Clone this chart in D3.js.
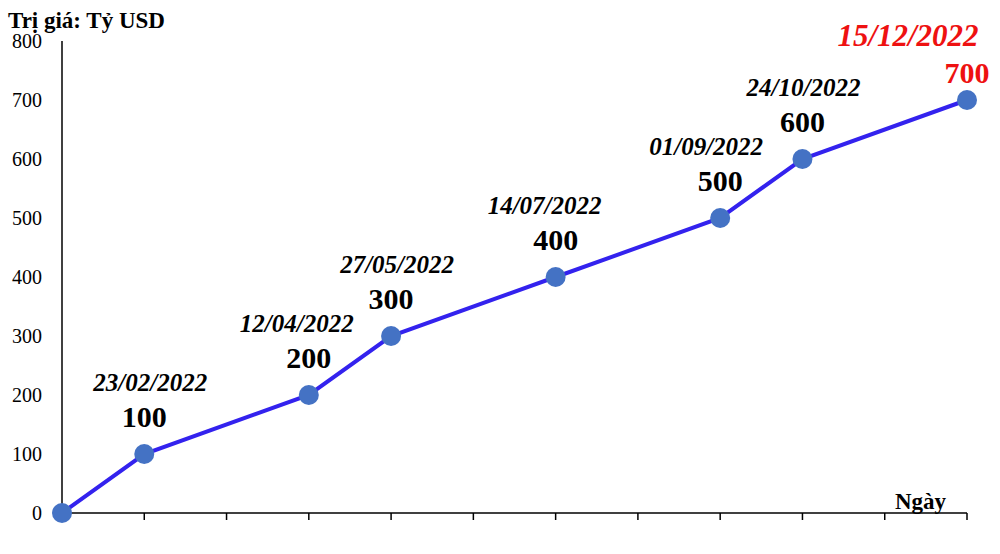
<!DOCTYPE html>
<html>
<head>
<meta charset="utf-8">
<script src="https://cdn.jsdelivr.net/npm/d3@7"></script>
<style>
  body { margin: 0; background: #fff; }
  text { font-family: "Liberation Serif", "Times New Roman", serif; }
</style>
</head>
<body>
<div class="chart"></div>
<script>
// Data
const slots = d3.range(12);
const pointSlots = [0, 1, 3, 4, 6, 8, 9, 11];
const values = [0, 100, 200, 300, 400, 500, 600, 700];
const dates = ["", "23/02/2022", "12/04/2022", "27/05/2022", "14/07/2022", "01/09/2022", "24/10/2022", "15/12/2022"];
const yTicks = [0, 100, 200, 300, 400, 500, 600, 700, 800];

// Label nudges (layout only)
const dateDx = [0, 6, -12, 6, -11, -14, 1, -59];

const width = 1000, height = 554;

const svg = d3.select('.chart').append('svg')
    .attr('width', width).attr('height', height);

const x = d3.scalePoint().domain(slots).range([62, 967]);
const y = d3.scaleLinear().domain([0, 800]).range([513, 41]);

// Y axis
svg.append('line').attr('x1', 62).attr('x2', 62).attr('y1', 41).attr('y2', 513)
    .attr('stroke', '#000').attr('stroke-width', 1.5);
svg.selectAll('.ytick').data(yTicks).enter().append('text')
    .attr('x', 42).attr('y', d => y(d) + 7)
    .attr('text-anchor', 'end').attr('font-size', 20)
    .text(d => d);

// X axis
svg.append('line').attr('x1', 62).attr('x2', 967).attr('y1', 513).attr('y2', 513)
    .attr('stroke', '#000').attr('stroke-width', 1.5);
svg.selectAll('.xtick').data(slots.slice(1)).enter().append('line')
    .attr('x1', d => x(d)).attr('x2', d => x(d))
    .attr('y1', 513).attr('y2', 520)
    .attr('stroke', '#000').attr('stroke-width', 1.5);

// Axis titles
svg.append('text').attr('x', 8).attr('y', 28)
    .attr('font-size', 23).attr('font-weight', 'bold').text('Trị giá: Tỷ USD');
svg.append('text').attr('x', 946).attr('y', 509).attr('text-anchor', 'end')
    .attr('font-size', 23).attr('font-weight', 'bold').text('Ngày');

// Line
const pts = pointSlots.map((s, i) => ({ s, v: values[i], date: dates[i], i }));
const line = d3.line().x(d => x(d.s)).y(d => y(d.v));
svg.append('path').datum(pts).attr('d', line)
    .attr('fill', 'none').attr('stroke', '#3322ee').attr('stroke-width', 4);

svg.selectAll('.dot').data(pts).enter().append('circle')
    .attr('cx', d => x(d.s)).attr('cy', d => y(d.v)).attr('r', 10)
    .attr('fill', '#4472c4');

// Labels
const lab = pts.filter(d => d.v > 0);
const last = d => d.i === pts.length - 1;
svg.selectAll('.vlab').data(lab).enter().append('text')
    .attr('x', d => x(d.s)).attr('y', d => y(d.v) - (last(d) ? 17 : 27))
    .attr('text-anchor', 'middle').attr('font-size', 30).attr('font-weight', 'bold')
    .attr('fill', d => last(d) ? '#ee1111' : '#000')
    .text(d => d.v);
svg.selectAll('.dlab').data(lab).enter().append('text')
    .attr('x', d => x(d.s) + dateDx[d.i]).attr('y', d => y(d.v) - (last(d) ? 54 : 63))
    .attr('text-anchor', 'middle')
    .attr('font-size', d => last(d) ? 31 : 25)
    .attr('font-weight', 'bold').attr('font-style', 'italic')
    .attr('fill', d => last(d) ? '#ee1111' : '#000')
    .text(d => d.date);
</script>
</body>
</html>
